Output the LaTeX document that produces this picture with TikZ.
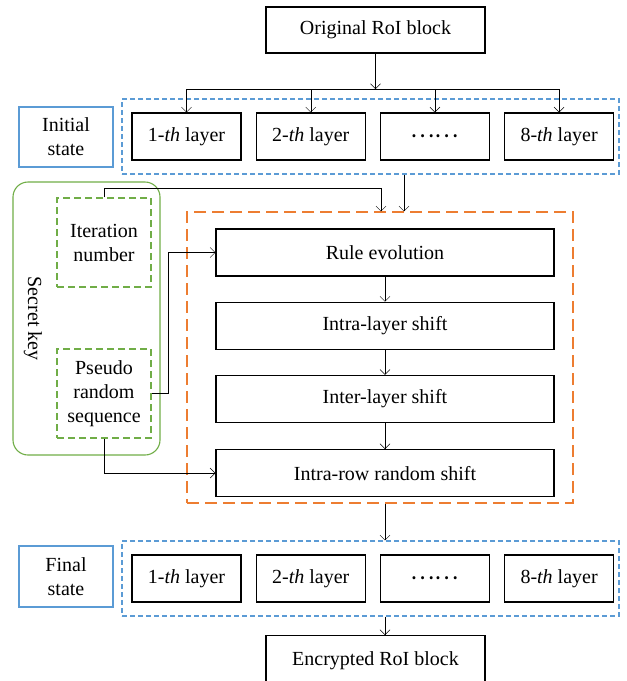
\documentclass[tikz,border=0pt]{standalone}
\usepackage{fontspec}
\setmainfont{Liberation Serif}
\newfontfamily\cjkfont{Noto Sans CJK SC}
\usetikzlibrary{arrows.meta,positioning}
\definecolor{bluefr}{RGB}{91,155,213}
\definecolor{orangefr}{RGB}{237,125,49}
\definecolor{greenfr}{RGB}{112,173,71}

\begin{document}
\begin{tikzpicture}[
    x=1pt, y=-1pt,
    node distance=14pt,
    >={Straight Barb[length=5pt,width=10pt]},
    txt/.style={font=\fontsize{20}{24}\selectfont, align=center},
    box/.style={rectangle, draw, line width=1.2pt, txt, minimum height=47pt},
    layer/.style={box, minimum width=109pt},
    proc/.style={box, minimum width=338pt},
    dashframe/.style={rectangle, draw=#1, line width=1.2pt, dash pattern=on 5pt off 3pt},
    statebox/.style={rectangle, draw=bluefr, line width=1.1pt, txt, minimum width=94pt},
    keybox/.style={rectangle, draw=greenfr, line width=1.1pt, dash pattern=on 7pt off 4pt,
                   txt, minimum width=94pt, minimum height=89pt},
    dots/.style={font=\cjkfont\fontsize{23}{24}\selectfont}
  ]
  \clip (0,0) rectangle (627,681);

  \node[box, minimum width=219pt, minimum height=46pt] (orig) at (375.5,30) {Original RoI block};

  \node[dashframe=bluefr, minimum width=497pt, minimum height=75pt] (inframe) at (370.5,136.5) {};
  \node[layer] (in1) at (186.5,136.5) {1-\textit{th} layer};
  \node[layer, right=of in1] (in2) {2-\textit{th} layer};
  \node[layer, dots, right=of in2] (in3) {……};
  \node[layer, right=of in3] (in8) {8-\textit{th} layer};
  \node[statebox, minimum height=60pt] (instate) at (66,137) {Initial\\state};

  \coordinate (bus) at (375.5,89);
  \draw[->] (orig) -- (bus);
  \foreach \n in {1,2,3,8}
    \draw[->] (bus) -| (in\n.north);

  \node[rectangle, draw=greenfr, line width=1.1pt, rounded corners=15pt,
        minimum width=147pt, minimum height=273pt] (keyframe) at (86.5,318.5) {};
  \node[txt, rotate=-90] (secret) at (33,318.5) {Secret key};
  \node[keybox] (iter) at (104,242.5) {Iteration\\number};
  \node[keybox] (pseudo) at (104,393.5) {Pseudo\\random\\sequence};

  \node[dashframe=orangefr, dash pattern=on 12pt off 6pt,
        minimum width=386pt, minimum height=291pt] (procframe) at (380,357.5) {};
  \node[proc] (rule) at (385,252.5) {Rule evolution};
  \node[proc, below=25pt of rule] (intra) {Intra-layer shift};
  \node[proc, below=25pt of intra] (inter) {Inter-layer shift};
  \node[proc, below=26pt of inter] (row) {Intra-row random shift};

  \draw[->] (rule) -- (intra);
  \draw[->] (intra) -- (inter);
  \draw[->] (inter) -- (row);
  \draw[->] ([xshift=33.5pt]inframe.south) -- ([xshift=24pt]procframe.north);
  \draw[->] (iter.north) -- ++(0,-9) -| ([xshift=1pt]procframe.north);
  \draw[->] (pseudo.east) -- ++(17,0) |- (rule.west);
  \draw[->] (pseudo.south) |- (row.west);

  \node[dashframe=bluefr, minimum width=497pt, minimum height=75pt] (outframe) at (370.5,578.5) {};
  \node[layer] (out1) at (186.5,578.5) {1-\textit{th} layer};
  \node[layer, right=of out1] (out2) {2-\textit{th} layer};
  \node[layer, dots, right=of out2] (out3) {……};
  \node[layer, right=of out3] (out8) {8-\textit{th} layer};
  \node[statebox, minimum height=61pt] (outstate) at (66,576.5) {Final\\state};

  \node[box, minimum width=219pt, minimum height=50pt, anchor=north] (enc) at (375.5,635) {Encrypted RoI block};

  \draw[->] (row.south |- procframe.south) -- (row.south |- outframe.north);
  \draw[->] (outframe.south -| row) -- (enc.north -| row);
\end{tikzpicture}
\end{document}
